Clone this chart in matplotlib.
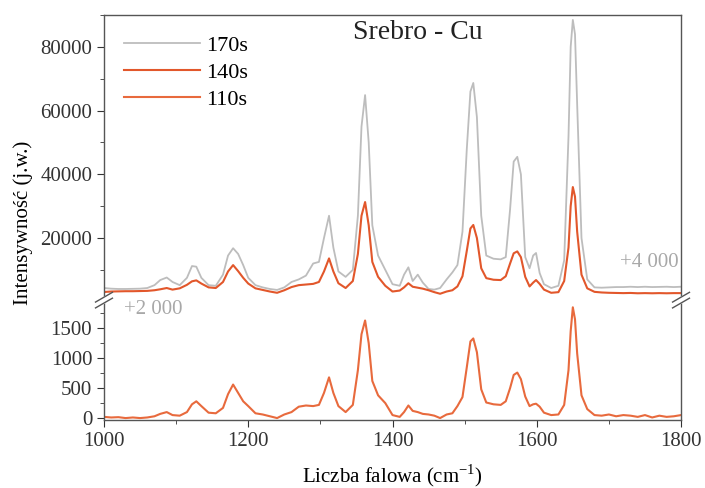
import matplotlib
matplotlib.use('Agg')
import matplotlib.pyplot as plt
from matplotlib.ticker import MultipleLocator
from matplotlib.lines import Line2D

plt.rcParams['font.family'] = ['Liberation Serif', 'DejaVu Serif']
plt.rcParams['mathtext.fontset'] = 'custom'
plt.rcParams['mathtext.rm'] = 'Liberation Serif'

# liczba falowa (cm-1)
wavenumber = [1000, 1010, 1020, 1030, 1040, 1050, 1060, 1070, 1078, 1087,
              1095, 1105, 1115, 1122, 1128, 1135, 1145, 1155, 1165, 1172,
              1179, 1186, 1193, 1200, 1210, 1220, 1230, 1240, 1250, 1260,
              1270, 1280, 1290, 1298, 1305, 1312, 1318, 1325, 1335, 1345,
              1352, 1357, 1362, 1367, 1372, 1380, 1390, 1400, 1410, 1416,
              1422, 1428, 1435, 1442, 1450, 1458, 1466, 1475, 1483, 1490,
              1497, 1503, 1508, 1512, 1517, 1523, 1530, 1540, 1550, 1557,
              1563, 1568, 1573, 1578, 1584, 1590, 1595, 1599, 1604, 1610,
              1620, 1630, 1638, 1644, 1647, 1650, 1653, 1656, 1662, 1670,
              1680, 1690, 1700, 1710, 1720, 1730, 1740, 1750, 1760, 1770,
              1780, 1790, 1800]

# 170s (+4 000)
i_170s = [4300, 4100, 4000, 4000, 4050, 4100, 4300, 5200, 6800, 7600,
          6200, 5200, 7500, 11200, 11000, 7500, 5200, 5000, 8500, 14500,
          16800, 15000, 11500, 7500, 5200, 4500, 4000, 3700, 4500, 6200,
          7000, 8200, 12000, 12500, 20000, 27000, 17000, 9500, 7800, 10000,
          27000, 55000, 64900, 50000, 24000, 14500, 10000, 5500, 5000, 8500,
          10800, 6500, 8500, 6000, 4000, 3800, 4300, 7000, 9200, 11500,
          22000, 48000, 66000, 68700, 58000, 27000, 14500, 13500, 13300, 14000,
          29000, 44000, 45500, 40000, 14000, 10500, 14500, 15300, 9000, 5500,
          4300, 5000, 13000, 52000, 80000, 88500, 84000, 62000, 20000, 7000,
          4500, 4400, 4500, 4600, 4600, 4700, 4600, 4700, 4600, 4650,
          4700, 4600, 4700]

# 140s (+2 000)
i_140s = [3050, 3200, 3250, 3300, 3300, 3350, 3400, 3600, 3900, 4300,
          3800, 4200, 5300, 6400, 6700, 5700, 4500, 4300, 6200, 9500,
          11500, 9600, 7500, 5700, 4200, 3700, 3200, 2800, 3600, 4600,
          5200, 5400, 5600, 6200, 9500, 13600, 9500, 5800, 4300, 6500,
          15000, 27000, 31300, 24000, 12500, 7800, 5000, 3200, 3500, 4500,
          5800, 4700, 4400, 4100, 3600, 3000, 2500, 3200, 3600, 4800,
          8000, 16000, 23000, 24100, 20000, 10500, 7400, 6900, 6800, 8000,
          12000, 15200, 15800, 14000, 7800, 4800, 6000, 6800, 5600, 3800,
          2800, 3000, 6500, 17000, 30000, 36000, 33000, 22000, 8500, 4200,
          3100, 2900, 2800, 2750, 2700, 2750, 2650, 2700, 2650, 2700,
          2650, 2700, 2700]

# 110s
i_110s = [20, 10, 15, 0, 10, 0, 10, 30, 70, 100,
          50, 40, 100, 230, 280, 200, 90, 80, 170, 400,
          560, 420, 280, 200, 80, 60, 30, 0, 60, 100,
          190, 210, 200, 220, 420, 680, 420, 200, 100, 220,
          800, 1400, 1630, 1250, 620, 380, 250, 50, 20, 100,
          210, 120, 100, 70, 60, 40, 0, 60, 80, 200,
          350, 850, 1280, 1330, 1100, 480, 260, 230, 220, 280,
          500, 720, 760, 650, 360, 200, 230, 240, 190, 90,
          50, 60, 220, 800, 1450, 1850, 1650, 1080, 380, 150,
          50, 40, 60, 30, 50, 40, 20, 50, 10, 40,
          20, 30, 50]

gray = '#bdbdbd'
orange = '#e2572b'
orange2 = '#e86a3d'

fig = plt.figure(figsize=(7.05, 4.88), dpi=100)
ax_top = fig.add_axes([0.1475, 0.385, 0.8185, 0.584])
ax_bot = fig.add_axes([0.1475, 0.139, 0.8185, 0.246], sharex=ax_top)

l1, = ax_top.plot(wavenumber, i_170s, color=gray, lw=1.3)
l2, = ax_top.plot(wavenumber, i_140s, color=orange, lw=1.5)
l3, = ax_bot.plot(wavenumber, i_110s, color=orange2, lw=1.5)

ax_top.set_xlim(1000, 1800)
ax_top.set_ylim(500, 90000)
ax_bot.set_ylim(-35, 1970)

for ax in (ax_top, ax_bot):
    for s in ax.spines.values():
        s.set_color('#555555')
        s.set_linewidth(1.0)
    ax.tick_params(axis='both', which='both', direction='out', colors='#333333',
                   labelsize=15, right=False, top=False)
    ax.tick_params(which='major', length=5)
    ax.tick_params(which='minor', length=3)

ax_top.spines['bottom'].set_visible(False)
ax_bot.spines['top'].set_visible(False)
ax_top.tick_params(axis='x', which='both', bottom=False, labelbottom=False)

ax_top.yaxis.set_major_locator(MultipleLocator(20000))
ax_top.yaxis.set_minor_locator(MultipleLocator(10000))
ax_bot.yaxis.set_major_locator(MultipleLocator(500))
ax_bot.yaxis.set_minor_locator(MultipleLocator(250))
ax_bot.xaxis.set_major_locator(MultipleLocator(200))
ax_bot.xaxis.set_minor_locator(MultipleLocator(100))

ax_top.text(0.543, 0.94, 'Srebro - Cu', transform=ax_top.transAxes,
            ha='center', va='center', fontsize=20, color='#222222')
ax_top.text(0.995, 0.133, '+4 000', transform=ax_top.transAxes,
            ha='right', va='center', fontsize=15, color='#a8a8a8')
ax_bot.text(0.035, 0.92, '+2 000', transform=ax_bot.transAxes,
            ha='left', va='center', fontsize=15, color='#a8a8a8')

ax_top.legend([l1, l2, l3], ['170s', '140s', '110s'], loc='upper left',
              bbox_to_anchor=(0.0, 1.0), frameon=False, fontsize=16,
              handlelength=3.4, handletextpad=0.3, labelspacing=0.3,
              borderaxespad=0.5)

ax_bot.set_xlabel(r'Liczba falowa (cm$^{\mathregular{-1}}$)', fontsize=15, labelpad=8)
fig.text(0.033, 0.543, 'Intensywność (j.w.)', rotation=90, fontsize=15,
         ha='center', va='center')

# znaczniki przerwania osi
ybr = 0.385
for xb in (0.1475, 0.966):
    fig.add_artist(Line2D([xb - 0.009, xb + 0.009], [ybr - 0.006, ybr + 0.006],
                          color='white', lw=5, transform=fig.transFigure))
    for dy in (-0.006, 0.006):
        fig.add_artist(Line2D([xb - 0.012, xb + 0.012],
                              [ybr + dy - 0.01, ybr + dy + 0.01],
                              color='#555555', lw=1.0, transform=fig.transFigure))

plt.savefig('out.png', dpi=100)
